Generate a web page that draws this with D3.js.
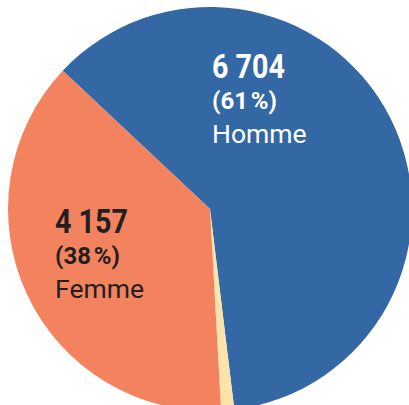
<!DOCTYPE html>
<html>
<head>
<meta charset="utf-8">
<script src="https://cdn.jsdelivr.net/npm/d3@7"></script>
<style>
  html, body { margin: 0; padding: 0; background: #fff; }
  svg { display: block; }
</style>
</head>
<body>
<div id="vis"></div>
<script>
// ----------------
// 1. Data
// ----------------
const categories = ["Homme", "Autre", "Femme"];
const values = [6704, 115, 4157];
const valueLabels = ["6 704", "", "4 157"];
const percentLabels = ["(61\u202F%)", "", "(38\u202F%)"];
const colors = ["#3468a5", "#fce3a9", "#f3835f"];

const dataset = categories.map((c, i) => ({
    name: c, value: values[i], valueLabel: valueLabels[i],
    pctLabel: percentLabels[i], color: colors[i]
}));

// ----------------
// 2. Dimensions
// ----------------
const dimensions = {
    width: 409,
    height: 405,
    cx: 210,
    cy: 209,
    radius: 202,
    startAngle: -46.8 * Math.PI / 180
};

// label anchors (left edge, first baseline) relative to chart center
const labelPos = {
    Homme: { x: 2, y: -131, fill: "#ffffff" },
    Femme: { x: -155, y: 24, fill: "#231f20" }
};

// ----------------
// 3. SVG
// ----------------
const svg = d3.select("#vis")
    .append("svg")
    .attr("width", dimensions.width)
    .attr("height", dimensions.height);

const g = svg.append("g")
    .attr("transform", `translate(${dimensions.cx}, ${dimensions.cy})`);

// ----------------
// 4. Pie
// ----------------
const pie = d3.pie()
    .sort(null)
    .value(d => d.value)
    .startAngle(dimensions.startAngle)
    .endAngle(dimensions.startAngle + 2 * Math.PI);

const arc = d3.arc()
    .innerRadius(0)
    .outerRadius(dimensions.radius);

g.selectAll("path")
    .data(pie(dataset))
    .join("path")
    .attr("d", arc)
    .attr("fill", d => d.data.color);

// ----------------
// 5. Labels
// ----------------
const labeled = dataset.filter(d => labelPos[d.name]);

const labels = g.selectAll("g.label")
    .data(labeled)
    .join("g")
    .attr("class", "label")
    .attr("transform", d => `translate(${labelPos[d.name].x}, ${labelPos[d.name].y})`)
    .attr("fill", d => labelPos[d.name].fill);

labels.append("text")
    .attr("x", 0)
    .attr("y", 0)
    .attr("font-family", "Roboto, 'DejaVu Sans', sans-serif")
    .attr("font-weight", 700)
    .attr("font-size", 34)
    .attr("textLength", 73)
    .attr("lengthAdjust", "spacingAndGlyphs")
    .text(d => d.valueLabel);

labels.append("text")
    .attr("x", 0)
    .attr("y", 31)
    .attr("font-family", "Roboto, 'DejaVu Sans', sans-serif")
    .attr("font-weight", 700)
    .attr("font-size", 23)
    .attr("textLength", 65)
    .attr("lengthAdjust", "spacingAndGlyphs")
    .text(d => d.pctLabel);

labels.append("text")
    .attr("x", 0)
    .attr("y", 65)
    .attr("font-family", "Roboto, 'Liberation Sans', sans-serif")
    .attr("font-weight", 400)
    .attr("font-size", 26.5)
    .text(d => d.name);
</script>
</body>
</html>
